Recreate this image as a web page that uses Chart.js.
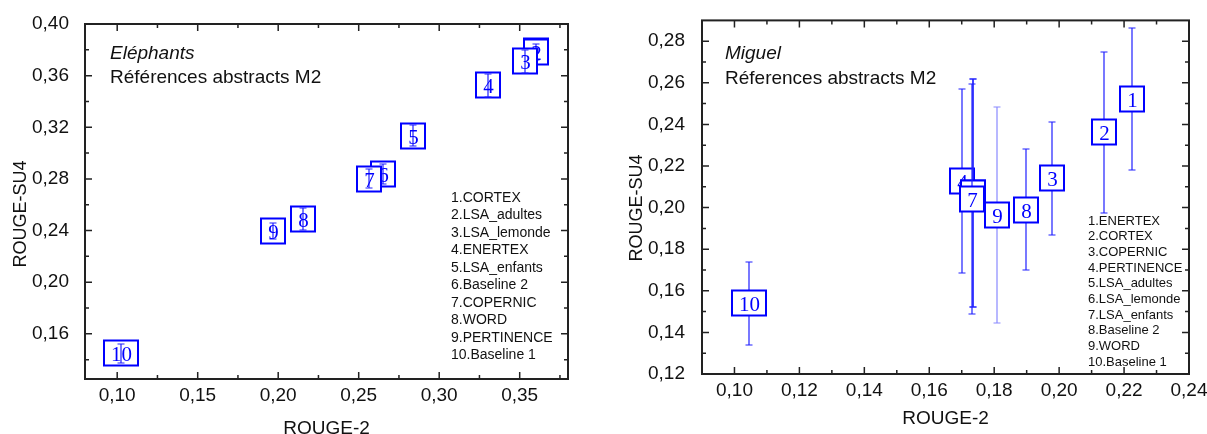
<!DOCTYPE html>
<html>
<head>
<meta charset="utf-8">
<script src="https://cdn.jsdelivr.net/npm/chart.js@4.4.1/dist/chart.umd.min.js"></script>
<style>
  html, body { margin: 0; padding: 0; background: #fff; }
  #wrap { position: relative; width: 1207px; height: 434px; }
  .panel { position: absolute; top: 0; height: 434px; }
  #left { left: 0; width: 600px; }
  #right { left: 600px; width: 607px; }
</style>
</head>
<body>
<div id="wrap">
  <div class="panel" id="left"><canvas id="chartLeft"></canvas></div>
  <div class="panel" id="right"><canvas id="chartRight"></canvas></div>
</div>
<script>
// Eléphants (left panel), point n = index + 1
const elephantNames = ['CORTEX', 'LSA_adultes', 'LSA_lemonde', 'ENERTEX', 'LSA_enfants',
  'Baseline 2', 'COPERNIC', 'WORD', 'PERTINENCE', 'Baseline 1'];
const elephantRouge2 = [0.3600, 0.3603, 0.3535, 0.3301, 0.2839, 0.2649, 0.2562, 0.2152, 0.1968, 0.1024];
const elephantSu4    = [0.3790, 0.3785, 0.3710, 0.3526, 0.3135, 0.2837, 0.2801, 0.2488, 0.2395, 0.1449];
const elephantLow    = [0.3720, 0.3725, 0.3620, 0.3436, 0.3054, 0.2760, 0.2726, 0.2402, 0.2331, 0.1377];
const elephantHigh   = [0.3860, 0.3845, 0.3800, 0.3616, 0.3216, 0.2914, 0.2876, 0.2574, 0.2459, 0.1521];
const elephantXTicks = [0.10, 0.15, 0.20, 0.25, 0.30, 0.35];
const elephantXMinor = [0.125, 0.175, 0.225, 0.275, 0.325, 0.375];
const elephantYTicks = [0.16, 0.20, 0.24, 0.28, 0.32, 0.36, 0.40];
const elephantYMinor = [0.14, 0.18, 0.22, 0.26, 0.30, 0.34, 0.38];

// Miguel (right panel)
const miguelNames = ['ENERTEX', 'CORTEX', 'COPERNIC', 'PERTINENCE', 'LSA_adultes',
  'LSA_lemonde', 'LSA_enfants', 'Baseline 2', 'WORD', 'Baseline 1'];
const miguelRouge2 = [0.2224, 0.2138, 0.1977, 0.1702, 0.1735, 0.1734, 0.1733, 0.1897, 0.1810, 0.1044];
const miguelSu4    = [0.2522, 0.2362, 0.2144, 0.2128, 0.2072, 0.2070, 0.2040, 0.1990, 0.1964, 0.1540];
const miguelLow    = [0.2180, 0.1976, 0.1870, 0.1686, 0.1520, 0.1520, 0.1489, 0.1699, 0.1444, 0.1341];
const miguelHigh   = [0.2865, 0.2748, 0.2413, 0.2571, 0.2620, 0.2620, 0.2592, 0.2283, 0.2484, 0.1740];
const miguelXTicks = [0.10, 0.12, 0.14, 0.16, 0.18, 0.20, 0.22, 0.24];
const miguelXMinor = [0.11, 0.13, 0.15, 0.17, 0.19, 0.21, 0.23];
const miguelYTicks = [0.12, 0.14, 0.16, 0.18, 0.20, 0.22, 0.24, 0.26, 0.28];
const miguelYMinor = [0.13, 0.15, 0.17, 0.19, 0.21, 0.23, 0.25, 0.27];

const BLUE = '#0000ff';
const AXIS = '#222';
const SANS = '"Liberation Sans", Arial, sans-serif';
const SERIF = '"Liberation Serif", "Times New Roman", serif';

function fmt(v) {
  return Number(v).toFixed(2).replace('.', ',');
}

// frame with inward ticks on all four sides, boxes with error bars, texts
function decorPlugin(p) {
  return {
    id: 'decor',
    afterDatasetsDraw(chart) {
      const ctx = chart.ctx;
      const ys = chart.scales.y;
      const meta = chart.getDatasetMeta(0);
      ctx.save();
      meta.data.forEach((pt, i) => {
        const label = String(i + 1);
        const w = label.length > 1 ? p.boxWide : p.boxW;
        const h = p.boxH;
        const cx = Math.round(pt.x);
        const cy = Math.round(pt.y);
        const yl = Math.round(ys.getPixelForValue(p.low[i]));
        const yh = Math.round(ys.getPixelForValue(p.high[i]));

        const drawBar = () => {
          ctx.strokeStyle = p.barColor ? p.barColor(i) : '#2020ff';
          ctx.lineWidth = 1.2;
          ctx.beginPath();
          ctx.moveTo(cx, yh);
          ctx.lineTo(cx, yl);
          ctx.moveTo(cx - 3.5, yh);
          ctx.lineTo(cx + 3.5, yh);
          ctx.moveTo(cx - 3.5, yl);
          ctx.lineTo(cx + 3.5, yl);
          ctx.stroke();
        };
        const drawBox = () => {
          ctx.fillStyle = '#fff';
          ctx.fillRect(cx - w / 2, cy - h / 2, w, h);
          ctx.strokeStyle = BLUE;
          ctx.lineWidth = 2;
          ctx.strokeRect(cx - w / 2, cy - h / 2, w, h);
        };

        if (p.barsOnTop) { drawBox(); drawBar(); } else { drawBar(); drawBox(); }

        ctx.fillStyle = BLUE;
        ctx.font = p.digitSize + 'px ' + SERIF;
        ctx.textAlign = 'center';
        ctx.textBaseline = 'middle';
        ctx.fillText(label, cx + 0.5, cy + 2);
      });
      ctx.restore();
    },
    afterDraw(chart) {
      const ctx = chart.ctx;
      const a = chart.chartArea;
      const xs = chart.scales.x, ys = chart.scales.y;
      ctx.save();
      ctx.strokeStyle = AXIS;
      ctx.lineWidth = 2;
      ctx.strokeRect(a.left, a.top, a.right - a.left, a.bottom - a.top);

      const tickX = (vals, len) => {
        ctx.beginPath();
        vals.forEach(v => {
          const x = xs.getPixelForValue(v);
          ctx.moveTo(x, a.bottom); ctx.lineTo(x, a.bottom - len);
          ctx.moveTo(x, a.top); ctx.lineTo(x, a.top + len);
        });
        ctx.stroke();
      };
      const tickY = (vals, len) => {
        ctx.beginPath();
        vals.forEach(v => {
          const y = ys.getPixelForValue(v);
          ctx.moveTo(a.left, y); ctx.lineTo(a.left + len, y);
          ctx.moveTo(a.right, y); ctx.lineTo(a.right - len, y);
        });
        ctx.stroke();
      };
      ctx.lineWidth = 1.5;
      tickX(p.xTicks, 7);
      tickX(p.xMinor, 4);
      tickY(p.yTicks, 7);
      tickY(p.yMinor, 4);

      // y axis title
      ctx.fillStyle = '#111';
      ctx.font = p.yTitleSize + 'px ' + SANS;
      ctx.textAlign = 'center';
      ctx.textBaseline = 'middle';
      ctx.translate(p.yTitleX, p.yTitleY);
      ctx.rotate(-Math.PI / 2);
      ctx.fillText('ROUGE-SU4', 0, 0);
      ctx.setTransform(1, 0, 0, 1, 0, 0);

      // corpus name and subtitle
      ctx.textAlign = 'left';
      ctx.font = 'italic 19px ' + SANS;
      ctx.fillText(p.corpus, a.left + p.titleDx, p.titleY1);
      ctx.font = '19px ' + SANS;
      ctx.fillText(p.subtitle, a.left + p.titleDx, p.titleY2);

      // numbered list of systems
      ctx.font = p.listSize + 'px ' + SANS;
      p.names.forEach((n, i) => {
        ctx.fillText((i + 1) + '.' + n, p.listX, p.listY + i * p.listGap);
      });
      ctx.restore();
    }
  };
}

function buildChart(id, p) {
  return new Chart(document.getElementById(id), {
    type: 'scatter',
    data: {
      datasets: [{
        data: p.x.map((v, i) => ({ x: v, y: p.y[i] })),
        pointRadius: 0,
        pointHoverRadius: 0
      }]
    },
    options: {
      responsive: true,
      maintainAspectRatio: false,
      animation: false,
      events: [],
      layout: { padding: p.padding },
      plugins: { legend: { display: false }, tooltip: { enabled: false } },
      scales: {
        x: {
          type: 'linear',
          min: p.xMin,
          max: p.xMax,
          grid: { display: false },
          border: { display: false },
          afterBuildTicks: s => { s.ticks = p.xTicks.map(v => ({ value: v })); },
          afterFit: s => { s.height = p.xAxisH; },
          ticks: {
            autoSkip: false, maxRotation: 0, padding: p.xPad, color: '#111',
            font: { family: SANS, size: 19 },
            callback: v => fmt(v)
          },
          title: {
            display: true, text: 'ROUGE-2', color: '#111',
            font: { family: SANS, size: 19, lineHeight: 1 },
            padding: { top: 0, bottom: p.xTitlePad }
          }
        },
        y: {
          type: 'linear',
          min: p.yMin,
          max: p.yMax,
          grid: { display: false },
          border: { display: false },
          afterBuildTicks: s => { s.ticks = p.yTicks.map(v => ({ value: v })); },
          afterFit: s => { s.width = p.yAxisW; },
          ticks: {
            autoSkip: false, padding: p.yPad, color: '#111',
            font: { family: SANS, size: 19 },
            callback: v => fmt(v)
          }
        }
      }
    },
    plugins: [decorPlugin(p)]
  });
}

buildChart('chartLeft', {
  x: elephantRouge2, y: elephantSu4, low: elephantLow, high: elephantHigh, names: elephantNames,
  xTicks: elephantXTicks, xMinor: elephantXMinor, yTicks: elephantYTicks, yMinor: elephantYMinor,
  xMin: 0.08, xMax: 0.38, yMin: 0.125, yMax: 0.40,
  padding: { left: 0, right: 32, top: 24, bottom: 0 },
  xAxisH: 55, yAxisW: 85, xPad: -3, yPad: 8, xTitlePad: -4.5,
  yTitleX: 21, yTitleY: 214, yTitleSize: 18,
  corpus: 'Eléphants', subtitle: 'Références abstracts M2', titleDx: 25, titleY1: 54, titleY2: 78,
  listSize: 14, listX: 451, listY: 198, listGap: 17.5,
  boxW: 24, boxWide: 34, boxH: 25, digitSize: 21, barsOnTop: true
});

buildChart('chartRight', {
  x: miguelRouge2, y: miguelSu4, low: miguelLow, high: miguelHigh, names: miguelNames,
  xTicks: miguelXTicks, xMinor: miguelXMinor, yTicks: miguelYTicks, yMinor: miguelYMinor,
  xMin: 0.09, xMax: 0.24, yMin: 0.12, yMax: 0.29,
  padding: { left: 0, right: 18, top: 17, bottom: 0 },
  xAxisH: 60, yAxisW: 102, xPad: -3, yPad: 9, xTitlePad: 6,
  yTitleX: 37, yTitleY: 208, yTitleSize: 18,
  corpus: 'Miguel', subtitle: 'Réferences abstracts M2', titleDx: 23, titleY1: 54, titleY2: 79,
  listSize: 13, listX: 488, listY: 221, listGap: 15.7,
  boxW: 24, boxWide: 34, boxH: 25, digitSize: 21, barsOnTop: false,
  barColor: i => (i === 8 ? 'rgba(60,60,255,0.6)' : '#2020ff')
});
</script>
</body>
</html>
